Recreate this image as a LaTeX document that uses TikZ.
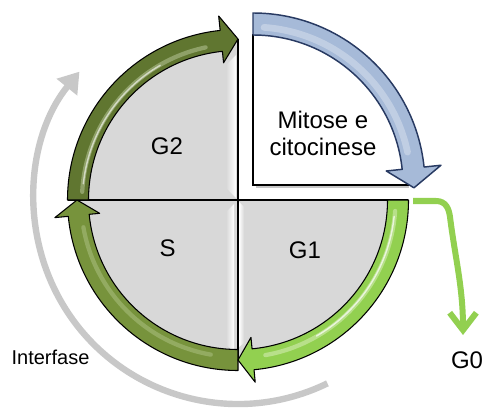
\documentclass[tikz,border=0pt]{standalone}
\usepackage{fontspec}
\setmainfont{Liberation Sans}
\usetikzlibrary{arrows.meta}
\definecolor{quadgray}{RGB}{216,216,216}
\definecolor{ggray}{RGB}{200,200,200}
\definecolor{gtwo}{RGB}{96,118,48}
\definecolor{gs}{RGB}{119,147,60}
\definecolor{gone}{RGB}{146,208,80}
\definecolor{glow}{RGB}{232,244,210}
\definecolor{bluefill}{RGB}{166,186,216}
\definecolor{blueline}{RGB}{40,58,98}
\begin{document}
\begin{tikzpicture}[x=0.75pt,y=0.75pt,
  lbl/.style={font=\fontsize{18}{20.25}\selectfont, text=black, inner sep=0pt, align=center},
  smalllbl/.style={font=\fontsize{15}{17}\selectfont, text=black, inner sep=0pt},
  quad/.style={fill=quadgray, draw=none},
  axisline/.style={draw=black, line width=0.8pt},
  bandarrow/.style={draw=black, line width=0.8pt, line join=round},
  glowline/.style={draw=glow, line width=3.2pt, line cap=round},
  hilite/.style={draw=white, line width=1.1pt, line cap=round},
  interfase/.style={draw=ggray, line width=4.8pt, -{Triangle[length=15pt,width=19pt]}},
  gzero/.style={draw=gone, line width=4.5pt, -{Straight Barb[length=13pt,width=20pt]}}]
\useasboundingbox (0,0) rectangle (484,407);

% ---- circle of the cycle, centred on the cross
\begin{scope}[shift={(238,207)}]
  % Interfase grey arc
  \draw[interfase] (-64:204) arc[start angle=-64,end angle=-219,radius=204];
  % grey quadrants
  \fill[quad] (0,0) -- (180:160) arc[start angle=180,end angle=90,radius=160] -- cycle;
  \fill[quad] (0,0) -- (-90:160) arc[start angle=-90,end angle=-180,radius=160] -- cycle;
  \fill[quad] (0,0) -- (0:160) arc[start angle=0,end angle=-90,radius=160] -- cycle;
\end{scope}

% bevel highlights next to the dividing line
\shade[left color=quadgray, right color=white] (226,219) -- (236,209) -- (236,352) -- (226,342) -- cycle;
\shade[left color=quadgray, right color=white] (226,62) -- (234,56) -- (234,203) -- (226,195) -- cycle;
\shade[left color=white, right color=quadgray] (239,60) -- (244,64) -- (244,200) -- (239,205) -- cycle;

\begin{scope}[shift={(238,207)}]
  % dividing lines
  \draw[axisline] (0,161) -- (0,-160);
  \draw[axisline] (-170,0) -- (170,0);
  % S arrow (bottom -> left)
  \filldraw[bandarrow, fill=gs] (-90:170.5) arc[start angle=-90,end angle=-174.5,radius=170.5]
     -- (-174.5:184) -- (180:161) -- (-174.5:139) -- (-174.5:149.5)
     arc[start angle=-174.5,end angle=-90,radius=149.5] -- cycle;
  \draw[glowline, draw opacity=0.25] (-100:157) arc[start angle=-100,end angle=-170,radius=157];
  % G2 arrow (left -> top)
  \filldraw[bandarrow, fill=gtwo] (180:170.5) arc[start angle=180,end angle=96,radius=170.5]
     -- (96:185) -- (90:161) -- (96:138) -- (96:149.5)
     arc[start angle=96,end angle=180,radius=149.5] -- cycle;
  \draw[glowline, draw opacity=0.35] (177:156) arc[start angle=177,end angle=102,radius=156];
  \draw[hilite, draw opacity=0.6] (174:155.5) arc[start angle=174,end angle=120,radius=155.5];
  % G1 arrow (right -> bottom)
  \filldraw[bandarrow, fill=gone] (0:170.5) arc[start angle=0,end angle=-84.6,radius=170.5]
     -- (-84.6:183) -- (-90:160) -- (-84.6:138) -- (-84.6:149.5)
     arc[start angle=-84.6,end angle=0,radius=149.5] -- cycle;
  \draw[glowline, draw opacity=0.45] (-4:157.5) arc[start angle=-4,end angle=-80,radius=157.5];
  \draw[hilite, draw opacity=0.7] (-6:157) arc[start angle=-6,end angle=-60,radius=157];
\end{scope}

% ---- Mitose quadrant, shifted out
\begin{scope}[shift={(253,222)}]
  \fill[white] (0,0) -- (0:160) arc[start angle=0,end angle=90,radius=160] -- cycle;
  \draw[black!22, line width=1.5pt] (3,-2.5) -- (156,-2.5);
  \draw[axisline] (90:151) -- (0,0) -- (0:158);
  \filldraw[draw=blueline, line width=1.1pt, line join=round, fill=bluefill]
     (90:172) arc[start angle=90,end angle=6,radius=172]
     -- (6:189) -- (-1:161) -- (6:134) -- (6:150)
     arc[start angle=6,end angle=90,radius=150] -- cycle;
  \draw[white, opacity=0.3, line width=5pt, line cap=round] (86:158) arc[start angle=86,end angle=12,radius=158];
\end{scope}

% ---- G0 branch
\coordinate (g0start) at (413,206);
\coordinate (g0end) at (463,72);
\draw[gzero] (g0start) -- (436,206) .. controls (446,206) and (449,198) .. (450,190)
   .. controls (455,150) and (463,120) .. (g0end);

% ---- labels
\node[lbl] (mit) at (323,274) {Mitose e\\citocinese};
\node[lbl] (g2) at (167,260.5) {G2};
\node[lbl] (s) at (167.5,159) {S};
\node[lbl] (g1) at (305,156.5) {G1};
\node[lbl] (g0) at (467,46.5) {G0};
\node[smalllbl] (inter) at (50.5,49.5) {Interfase};
\end{tikzpicture}
\end{document}
